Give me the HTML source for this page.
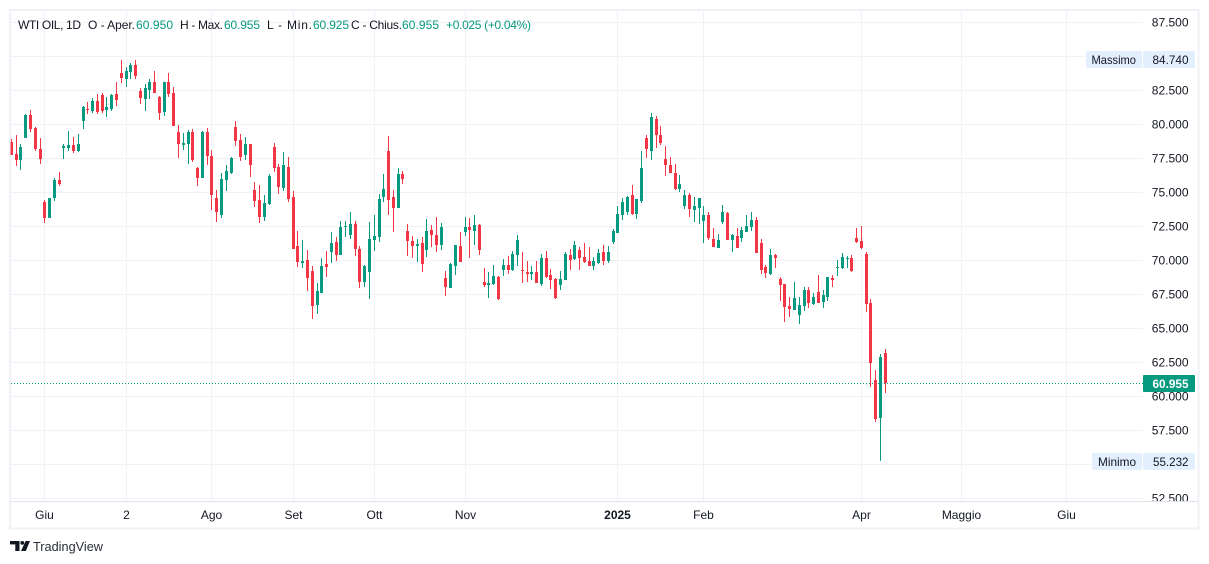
<!DOCTYPE html>
<html lang="it">
<head>
<meta charset="utf-8">
<title>WTI OIL 1D</title>
<style>
html,body{margin:0;padding:0;background:#fff;width:1209px;height:564px;overflow:hidden}
svg{display:block}
text{font-family:"Liberation Sans",sans-serif;font-size:12px;fill:#131722}
.g{fill:#089981}
</style>
</head>
<body>
<svg id="chart" xmlns="http://www.w3.org/2000/svg" width="1209" height="564" viewBox="0 0 1209 564">
  <defs>
    <clipPath id="plot-clip"><rect x="10" y="10" width="1133" height="491"/></clipPath>
    <clipPath id="axis-clip"><rect x="1143" y="10" width="55" height="491"/></clipPath>
  </defs>
  <rect x="10" y="10" width="1188.5" height="518.5" fill="#fff" stroke="#f0f1f6" stroke-width="2"/>
  <g id="grid" clip-path="url(#plot-clip)" shape-rendering="crispEdges"></g>
  <line id="lastLine" x1="11" x2="1143" y1="383.5" y2="383.5" stroke="#089981" stroke-width="1" stroke-dasharray="1 2" shape-rendering="crispEdges"/>
  <g id="candles" clip-path="url(#plot-clip)" shape-rendering="crispEdges"></g>
  <rect x="10" y="10" width="1" height="491" fill="#f0f1f6" opacity=".55"/>
  <rect x="10" y="501" width="1188" height="1" fill="#e0e3eb"/>
  <g id="priceAxis" clip-path="url(#axis-clip)"></g>
  <g id="timeAxis"></g>

  <g>
    <rect x="1086" y="51" width="56" height="17" rx="2" fill="#e3effd"/>
    <rect x="1143" y="51" width="52" height="17" rx="2" fill="#e3effd"/>
    <text x="1091.5" y="64" textLength="44.5" lengthAdjust="spacingAndGlyphs">Massimo</text>
    <text x="1152.5" y="64" textLength="36" lengthAdjust="spacingAndGlyphs">84.740</text>
  </g>
  <g>
    <rect x="1092" y="453" width="50" height="17" rx="2" fill="#e3effd"/>
    <rect x="1143" y="453" width="52" height="17" rx="2" fill="#e3effd"/>
    <text x="1098" y="466" textLength="38" lengthAdjust="spacingAndGlyphs">Minimo</text>
    <text x="1153" y="466" textLength="35.5" lengthAdjust="spacingAndGlyphs">55.232</text>
  </g>
  <g>
    <rect x="1143" y="375" width="52" height="17" rx="1" fill="#089981"/>
    <text x="1152.5" y="388" textLength="36" lengthAdjust="spacingAndGlyphs" style="fill:#fff;font-weight:bold">60.955</text>
  </g>

  <g>
    <text x="18" y="29" textLength="63" lengthAdjust="spacing">WTI OIL, 1D</text>
    <text x="88" y="29" textLength="47" lengthAdjust="spacing">O - Aper.</text>
    <text class="g" x="136" y="29" textLength="37" lengthAdjust="spacing">60.950</text>
    <text x="180" y="29" textLength="43" lengthAdjust="spacing">H - Max.</text>
    <text class="g" x="224" y="29" textLength="36" lengthAdjust="spacing">60.955</text>
    <text x="267" y="29" textLength="45" lengthAdjust="spacing">L - Min.</text>
    <text class="g" x="313" y="29" textLength="36" lengthAdjust="spacing">60.925</text>
    <text x="351" y="29" textLength="51" lengthAdjust="spacing">C - Chius.</text>
    <text class="g" x="402" y="29" textLength="37" lengthAdjust="spacing">60.955</text>
    <text class="g" x="446" y="29" textLength="85" lengthAdjust="spacing">+0.025 (+0.04%)</text>
  </g>

  <g>
    <g fill="#131722">
      <rect x="10" y="541" width="9.5" height="3.4"/>
      <rect x="15.3" y="541" width="4.2" height="10"/>
      <circle cx="22.3" cy="542.9" r="1.9"/>
      <polygon points="25.6,541 30,541 25.8,551 21,551"/>
    </g>
    <text x="33" y="551" textLength="70" lengthAdjust="spacingAndGlyphs" style="font-size:13px;fill:#2a2e39">TradingView</text>
  </g>
</svg>
<script>
const opens = [
78.67,77.80,77.35,78.97,80.66,79.71,78.16,74.26,73.09,74.56,
75.88,78.24,78.24,78.46,78.02,80.22,81.10,80.96,81.69,82.13,
81.03,81.10,82.21,83.75,83.31,83.82,84.34,82.43,81.84,82.50,
83.09,81.99,80.88,83.09,82.28,79.41,78.46,78.53,79.41,76.77,
76.03,79.41,77.65,74.56,73.31,75.88,76.40,79.78,78.82,77.72,
78.53,75.15,74.41,73.16,74.12,78.31,76.84,75.29,76.84,74.63,
71.03,69.78,70.00,69.19,66.69,67.57,69.71,70.59,71.32,70.37,
72.43,71.84,72.65,70.81,68.38,69.12,71.47,71.69,74.63,78.02,
74.63,73.82,76.32,72.14,71.40,71.03,71.25,70.74,72.21,71.84,
71.10,68.67,67.94,69.56,71.03,72.06,72.43,72.14,72.57,68.38,
68.16,68.23,68.75,69.26,69.63,69.26,70.37,69.26,69.12,68.97,
69.12,68.23,70.15,68.90,68.60,68.16,68.53,70.37,70.07,70.74,
70.22,69.93,69.56,69.78,70.59,69.93,71.32,71.99,73.31,73.53,
74.78,73.38,74.34,78.97,78.02,80.37,79.19,77.43,76.98,76.40,
75.22,73.97,74.78,73.68,73.82,72.87,73.31,71.55,70.88,72.79,
73.46,71.47,71.76,71.62,72.06,72.43,72.94,71.25,69.49,68.97,
70.37,68.60,68.23,66.62,66.32,65.96,66.62,67.79,66.76,67.65,
66.91,67.28,68.67,69.41,69.41,70.07,70.15,71.62,71.40,70.44,
66.84,61.18,58.38,63.16];
const highs = [
78.90,79.19,78.53,80.70,81.03,79.78,78.97,74.41,74.56,76.03,
76.47,78.53,79.49,79.05,79.27,81.33,81.62,81.91,82.21,82.28,
81.99,82.21,83.09,84.71,84.20,84.49,84.74,82.65,82.95,83.31,
83.90,82.06,83.09,83.75,82.72,79.92,79.34,79.56,79.63,76.84,
79.49,79.71,78.09,75.15,76.40,76.98,77.57,80.22,79.27,79.05,
78.53,75.73,75.51,74.78,76.32,78.60,77.06,77.94,77.57,75.07,
72.14,71.47,70.74,69.56,68.31,70.15,70.67,72.06,71.70,72.87,
72.87,73.53,72.87,71.03,69.63,72.79,73.31,74.85,76.32,79.12,
75.15,76.77,76.55,72.65,71.76,71.55,71.69,73.01,72.57,73.16,
72.72,69.19,69.78,71.10,72.06,73.16,73.09,73.31,72.65,69.41,
69.12,69.63,68.82,70.07,70.30,70.66,71.84,70.59,69.93,69.56,
69.93,70.44,70.66,69.34,68.67,69.19,70.59,70.81,71.40,70.96,
71.25,70.96,70.22,70.81,71.10,71.03,72.28,73.97,74.56,74.71,
75.51,74.49,78.02,79.19,80.81,80.59,79.85,78.38,77.57,77.06,
76.25,75.15,74.93,74.63,74.56,73.97,73.53,72.35,71.91,74.04,
73.53,71.91,72.35,72.43,73.31,73.53,73.16,71.55,69.63,70.81,
70.44,68.75,68.23,67.28,68.38,67.28,68.01,68.01,67.57,68.90,
67.79,68.75,68.90,70.00,70.52,70.30,70.37,72.35,72.50,70.59,
67.13,61.91,63.09,63.46];
const lows = [
77.72,76.91,76.62,78.97,79.41,78.02,77.06,72.72,73.09,74.34,
75.44,77.43,78.02,77.87,77.94,79.63,80.74,80.81,80.74,80.81,
80.52,80.96,81.33,83.02,82.72,83.31,83.31,81.47,80.96,81.84,
82.28,80.29,80.59,81.99,79.85,77.50,78.09,77.06,77.20,75.44,
76.03,76.98,73.68,72.79,73.09,75.07,76.32,78.38,77.28,77.35,
76.10,73.90,72.72,72.87,74.04,76.47,74.85,75.07,74.26,70.81,
69.49,69.41,67.72,65.66,66.03,67.57,68.75,69.78,69.93,70.37,
71.69,71.55,70.30,67.94,68.01,67.13,70.66,71.32,74.26,73.31,
72.06,73.82,75.59,70.30,70.15,69.85,69.12,70.22,70.96,70.59,
70.74,67.35,67.94,68.90,69.85,71.76,70.15,71.10,70.37,68.01,
67.20,68.16,67.06,68.82,68.97,69.19,69.56,68.31,68.38,68.53,
68.31,68.09,68.67,67.87,67.13,67.79,68.53,69.26,70.00,69.26,
69.78,69.56,69.26,69.71,69.63,69.78,71.18,71.99,72.94,73.31,
73.31,73.01,74.19,77.50,77.35,78.24,78.46,76.18,76.40,75.15,
75.00,73.75,73.16,72.79,72.65,71.25,71.47,70.96,70.88,72.65,
71.47,70.59,70.88,71.32,72.06,72.14,70.52,68.97,68.67,68.90,
69.41,66.99,65.44,65.81,66.32,65.30,66.25,66.47,66.69,66.84,
66.47,66.99,68.01,68.82,69.34,69.41,69.12,71.25,70.81,66.18,
60.66,58.09,55.232,60.22];
const closes = [
77.72,77.35,78.31,80.66,79.63,78.16,77.43,73.09,74.56,75.88,
75.59,78.38,78.46,78.02,78.53,81.26,81.03,81.69,80.88,80.96,
81.26,82.13,81.77,83.38,83.90,84.34,83.53,81.91,82.65,83.09,
82.28,80.81,83.09,82.21,79.85,78.53,78.60,79.41,77.35,76.03,
79.41,77.65,74.78,73.53,75.96,76.55,77.50,78.75,77.57,78.53,
76.98,74.34,73.16,74.19,76.18,76.77,75.37,76.98,74.49,70.81,
69.85,69.93,68.67,66.62,67.72,69.56,69.48,71.25,70.37,72.43,
72.50,72.65,70.81,68.38,69.56,71.55,71.76,74.49,75.22,74.41,
73.82,76.32,75.96,71.40,71.03,71.18,69.71,72.14,71.84,71.10,
72.43,68.01,69.71,71.10,69.85,72.43,72.21,72.57,70.74,68.16,
68.31,68.82,67.13,69.63,69.26,70.44,71.47,69.19,68.97,69.12,
68.31,70.15,68.75,68.53,67.20,68.60,70.44,70.00,71.10,70.15,
69.85,69.56,69.93,70.52,69.93,70.59,72.14,73.38,74.26,74.63,
73.38,74.49,76.77,78.16,80.51,79.19,78.60,76.98,76.40,75.22,
75.59,74.78,73.75,73.97,74.56,73.31,71.62,70.96,71.47,73.53,
71.47,71.84,70.88,72.21,72.50,72.94,70.52,69.26,69.04,70.37,
70.15,68.16,66.55,66.40,67.20,66.69,67.79,66.84,67.28,66.84,
67.43,68.75,68.53,69.49,70.22,70.15,69.19,71.32,70.88,66.76,
62.43,58.31,62.87,60.955];
const priceTicks = [87.5,85,82.5,80,77.5,75,72.5,70,67.5,65,62.5,60,57.5,55,52.5];
const hiddenPriceLabels = [85,55];
const monthLabels = ["Giu","2","Ago","Set","Ott","Nov","2025","Feb","Apr","Maggio","Giu"];
const monthBars = [7,24,42,59,76,95,127,145,178,199,221];
const lastPrice = 60.955;

const NS = "http://www.w3.org/2000/svg";
const UP = "#089981", DOWN = "#F23645";
function yScale(p){ return 396 - (p - 60) * 13.6; }
function xPixel(i){ return Math.floor(11.4 + 4.775 * i); }
function make(tag, attrs, parent){
  const el = document.createElementNS(NS, tag);
  for (const k in attrs) el.setAttribute(k, attrs[k]);
  parent.appendChild(el);
  return el;
}

const grid = document.getElementById("grid");
const priceAxis = document.getElementById("priceAxis");
const timeAxis = document.getElementById("timeAxis");
const candles = document.getElementById("candles");

priceTicks.forEach(function(p){
  const y = Math.round(yScale(p));
  const line = make("rect", {x:10, y:y, width:1133, height:1, fill:"#f1f2f5"}, grid);
  
  
  if (hiddenPriceLabels.indexOf(p) >= 0) return;
  const t = make("text", {x:1188.5, y:y + 4.5, "text-anchor":"end"}, priceAxis);
  
  
  t.textContent = p.toFixed(3);
});

monthLabels.forEach(function(label, k){
  const px = xPixel(monthBars[k]);
  const line = make("rect", {x:px, y:10, width:1, height:491, fill:"#f1f2f5"}, grid);
  
  
  const t = make("text", {x:px + 0.5, y:519, "text-anchor":"middle"}, timeAxis);
  
  
  if (label === "2025") t.style.fontWeight = "bold";
  t.textContent = label;
});

opens.forEach(function(o, i){
  const c = closes[i], color = c >= o ? UP : DOWN, px = xPixel(i);
  const group = make("g", {}, candles);
  
  
  const wickTop = Math.round(yScale(highs[i]));
  const wickBot = Math.round(yScale(lows[i]));
  const wick = make("rect", {x:px, y:wickTop, width:1, height:Math.max(1, wickBot - wickTop), fill:color}, group);
  
  
  const bodyTop = Math.round(yScale(Math.max(o, c)));
  const bodyBot = Math.round(yScale(Math.min(o, c)));
  const body = make("rect", {x:px - 1, y:bodyTop, width:3, height:Math.max(1, bodyBot - bodyTop), fill:color}, group);
  
  
});

const ly = Math.round(yScale(lastPrice)) + 0.5;
const lastLine = document.getElementById("lastLine");
lastLine.setAttribute("y1", ly);
lastLine.setAttribute("y2", ly);
</script>
</body>
</html>
